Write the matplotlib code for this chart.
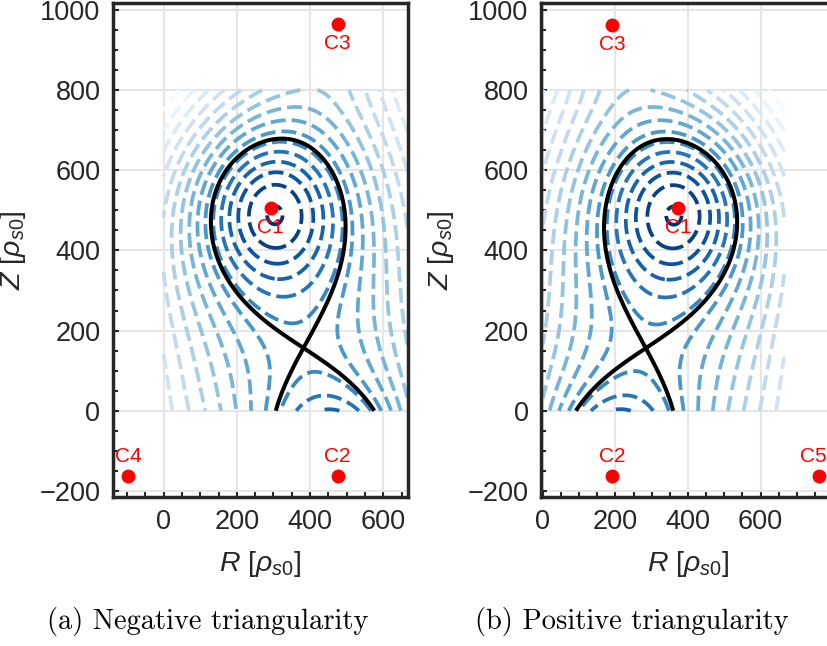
import numpy as np
import matplotlib.pyplot as plt
from matplotlib.ticker import MultipleLocator

plt.rcParams['font.family'] = ['Liberation Sans', 'DejaVu Sans']
plt.rcParams['mathtext.fontset'] = 'custom'
plt.rcParams['mathtext.rm'] = 'Liberation Sans'
plt.rcParams['mathtext.it'] = 'Liberation Sans:italic'

# wire positions, in rho_s0
names_neg = ["C1", "C2", "C3", "C4"]
r_neg = [292, 475, 475, -97]
z_neg = [506, -163, 965, -163]

names_pos = ["C1", "C2", "C3", "C5"]
r_pos = [373, 191, 191, 760]
z_pos = [505, -163, 962, -163]

# X-point and a few points on the separatrix
xpt_neg = (374, 177)
sep_r_neg = [299, 581, 313, 98, 481, 154, 445, 236, 127, 468, 436]
sep_z_neg = [7, 7, 686, 485, 486, 609, 626, 269, 377, 377, 277]

xpt_pos = (284, 173)
sep_r_pos = [79, 360, 336, 177, 564, 230, 479, 396, 525, 189, 235]
sep_z_pos = [4, 4, 683, 485, 460, 626, 610, 244, 377, 377, 269]

# width of the gaussian plasma current at C1, from the spacing of the flux rings
sigma = 100
n_levels = 16

# label above (+1) or below (-1) the wire, small x shift in points
label_side = [-1, 1, -1, 1]
label_dx_neg = [0, 0, 0, 0]
label_dx_pos = [0, 0, 0, -3.6]

captions = ["(a) Negative triangularity", "(b) Positive triangularity"]
caption_x = [208, 632]

# simulation box
r_box = [0, 665]
z_box = [0, 800]

txt_col = '#262626'

# radial flux table for the gaussian plasma current (wire C1)
rt = np.linspace(0, 3000, 60001)
g = np.zeros_like(rt)
g[1:] = (1 - np.exp(-rt[1:]**2 / (2 * sigma**2))) / rt[1:]
tab = np.concatenate([[0], np.cumsum(0.5 * (g[1:] + g[:-1]) * np.diff(rt))])


def phi(k, r, z, r0, z0):
    d = np.hypot(r - r0, z - z0)
    if k == 0:
        return -np.interp(d, rt, tab)
    return -np.log(d)


def dphi(k, r, z, r0, z0):
    d2 = (r - r0)**2 + (z - z0)**2
    f = (1 - np.exp(-d2 / (2 * sigma**2))) if k == 0 else 1.0
    return np.array([-f * (r - r0) / d2, -f * (z - z0) / d2])


def rows_for(rc, zc, xpt, sr, sz):
    rows, rhs = [], []
    for r, z in zip(sr, sz):
        d = [phi(k, r, z, rc[k], zc[k]) - phi(k, xpt[0], xpt[1], rc[k], zc[k]) for k in range(4)]
        rows.append(d[1:])
        rhs.append(-d[0])
    gx = [dphi(k, xpt[0], xpt[1], rc[k], zc[k]) * 400 for k in range(4)]
    for j in range(2):
        rows.append([gx[1][j], gx[2][j], gx[3][j]])
        rhs.append(-gx[0][j])
    return rows, rhs


# plasma current fixed to 1, the other wire currents follow from both separatrices
r1, b1 = rows_for(r_neg, z_neg, xpt_neg, sep_r_neg, sep_z_neg)
r2, b2 = rows_for(r_pos, z_pos, xpt_pos, sep_r_pos, sep_z_pos)
cur = [1.0] + list(np.linalg.lstsq(np.array(r1 + r2), np.array(b1 + b2), rcond=None)[0])


def flux(R, Z, rc, zc):
    return sum(cur[k] * phi(k, R, Z, rc[k], zc[k]) for k in range(4))


def grad(p, rc, zc):
    return sum(cur[k] * dphi(k, p[0], p[1], rc[k], zc[k]) for k in range(4))


def x_point(p, rc, zc):
    p = np.array(p, dtype=float)
    h = 1e-3
    for _ in range(40):
        gp = grad(p, rc, zc)
        J = np.zeros((2, 2))
        J[:, 0] = (grad(p + [h, 0], rc, zc) - grad(p - [h, 0], rc, zc)) / (2 * h)
        J[:, 1] = (grad(p + [0, h], rc, zc) - grad(p - [0, h], rc, zc)) / (2 * h)
        p = p - np.linalg.solve(J, gp)
    return p


RR, ZZ = np.meshgrid(np.linspace(r_box[0], r_box[1], 500),
                     np.linspace(z_box[0], z_box[1], 600))

fig = plt.figure(figsize=(8.27, 6.46), dpi=100)
ax1 = fig.add_axes([0.1366, 0.2307, 0.3567, 0.7647])
ax2 = fig.add_axes([0.6542, 0.2307, 0.3567, 0.7647])

panels = [(ax1, names_neg, r_neg, z_neg, xpt_neg, label_dx_neg, (-138, 667)),
          (ax2, names_pos, r_pos, z_pos, xpt_pos, label_dx_pos, (-5, 808))]

for i, (ax, names, rc, zc, xpt, ldx, xl) in enumerate(panels):
    psi = flux(RR, ZZ, rc, zc)
    dl = (psi.max() - psi.min()) / (n_levels + 0.2)
    lev = psi.max() - dl * (np.arange(n_levels) + 0.1)
    ax.contour(RR, ZZ, psi, levels=lev[::-1], cmap='Blues', linestyles=[(0, (4.0, 1.6))],
               linewidths=2.7, zorder=2)
    # separatrix through the X-point
    xp = x_point(xpt, rc, zc)
    psi_x = flux(np.array([xp[0]]), np.array([xp[1]]), rc, zc)[0]
    ax.contour(RR, ZZ, psi, levels=[psi_x], colors='k', linestyles='solid',
               linewidths=2.9, zorder=3)

    ax.plot(rc, zc, 'o', color='red', ms=9, zorder=5, clip_on=False)
    for n, r0, z0, s, dx in zip(names, rc, zc, label_side, ldx):
        ax.annotate(n, (r0, z0), xytext=(dx, 14 * s), textcoords='offset points',
                    ha='center', va='center', color='red', fontsize=15, zorder=6)

    ax.set_xlim(xl)
    ax.set_ylim(-215, 1017)
    ax.set_xticks([0, 200, 400, 600])
    ax.set_yticks(np.arange(-200, 1001, 200))
    ax.xaxis.set_minor_locator(MultipleLocator(50))
    ax.yaxis.set_minor_locator(MultipleLocator(50))
    ax.tick_params(which='both', direction='in', width=1.5, color=txt_col,
                   labelsize=19.5, labelcolor=txt_col)
    ax.tick_params(which='major', length=4.5, pad=9)
    ax.tick_params(which='minor', length=3.5)
    ax.grid(True, which='major', color='#e6e6e6', lw=1.5)
    ax.set_axisbelow(True)
    for sp in ax.spines.values():
        sp.set_linewidth(2.5)
        sp.set_color(txt_col)

    ax.set_xlabel(r"$R\ [\rho_{s0}]$", fontsize=20.5, color=txt_col, labelpad=10)
    ax.set_ylabel(r"$Z\ [\rho_{s0}]$", fontsize=20.5, color=txt_col, labelpad=8)

    fig.text(caption_x[i] / 827, 1 - 622 / 646, captions[i], family='cmr10',
             fontsize=20.5, ha='center', va='center')

fig.savefig('out.png', dpi=100)
